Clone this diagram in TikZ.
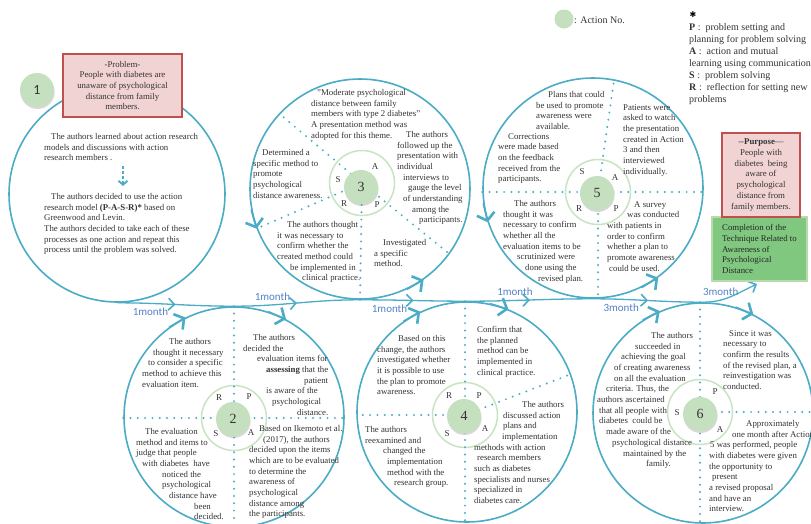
\documentclass[tikz,border=0pt]{standalone}
\usepackage{fontspec}
\setmainfont{Liberation Serif}
\newfontfamily\calibri{Carlito}
\newfontfamily\dejavu{DejaVu Sans}
\usetikzlibrary{arrows.meta,positioning,shadows,decorations.markings,calc}

\definecolor{cyc}{RGB}{75,172,198}
\definecolor{ringgreen}{RGB}{200,228,194}
\definecolor{discgreen}{RGB}{197,224,190}
\definecolor{probfill}{RGB}{242,211,211}
\definecolor{probline}{RGB}{192,80,77}
\definecolor{goalfill}{RGB}{128,200,128}
\definecolor{goalline}{RGB}{184,218,172}
\definecolor{monthblue}{RGB}{84,130,200}

\begin{document}
\begin{tikzpicture}[
    x=1pt, y=-1pt,
    bigcircle/.style={circle, draw=cyc, line width=1.6pt, minimum size=220pt, inner sep=0pt},
    ring/.style={circle, draw=ringgreen, line width=1.5pt, minimum size=65pt, inner sep=0pt},
    disc/.style={circle, fill=discgreen, minimum size=34pt, inner sep=0pt, text=black!80, font=\fontsize{14}{14}\selectfont, drop shadow={shadow xshift=0.6pt, shadow yshift=-2pt, opacity=0.3}},
    pasr/.style={font=\fontsize{9}{9}\selectfont, text=black!80, inner sep=0pt},
    txt/.style={font=\fontsize{8.8}{10.7}\selectfont, text=black!80, inner sep=0pt, align=left, anchor=north west},
    dotline/.style={draw=cyc, line width=2.2pt, line cap=round, dash pattern=on 0pt off 7.3pt},
    tline/.style={draw=cyc, line width=1.3pt, postaction={decorate}, decoration={markings, mark=at position 0.5 with {\arrow{Straight Barb[length=6pt, width=12pt, line width=1.6pt]}}}},
    tend/.style={draw=cyc, line width=1.3pt, -{Straight Barb[length=6pt, width=12pt, line width=1.6pt]}},
    ctip/.style={draw=cyc, line width=1.6pt, -{Straight Barb[length=7pt, width=18pt, line width=2.6pt]}},
    dasharrow/.style={draw=cyc, line width=1.8pt, dash pattern=on 3pt off 2pt, -{Straight Barb[length=4pt, width=9pt, line width=1.8pt]}},
    month/.style={font=\calibri\fontsize{11}{11}\selectfont, text=monthblue, inner sep=1pt},
    probbox/.style={rectangle, draw=probline, line width=1.8pt, fill=probfill, align=center, inner sep=2pt, font=\fontsize{8.8}{10.7}\selectfont, text=black!80},
    goalbox/.style={rectangle, draw=goalline, line width=1.5pt, fill=goalfill, align=left, inner sep=2pt, font=\fontsize{8.8}{10.6}\selectfont, text=black!85}
]
    \useasboundingbox (0,0) rectangle (811,523);
    \fill[white] (0,0) rectangle (811,523);

    % Action circles
    \node[bigcircle, minimum size=216pt] (c1) at (117,194) {};
    \node[bigcircle] (c2) at (234,417) {};
    \node[bigcircle] (c3) at (360,189) {};
    \node[bigcircle] (c4) at (467,412) {};
    \node[bigcircle] (c5) at (593,188) {};
    \node[bigcircle] (c6) at (703,413) {};
    \coordinate (goal) at (757,284);

    % Time line
    \draw[tline] (c1.south) to[out=0,in=180] node[month, pos=0.27, below=3pt] {1month} (c2.north);
    \draw[tline] (c2.north) to[out=0,in=180] node[month, pos=0.29, above=3pt] {1month} (c3.south);
    \draw[tline] (c3.south) to[out=0,in=180] node[month, pos=0.26, below=3pt] {1month} (c4.north);
    \draw[tline] (c4.north) to[out=0,in=180] node[month, pos=0.37, above=3pt] {1month} (c5.south);
    \draw[tline] (c5.south) to[out=0,in=180] node[month, pos=0.24, below=3pt] {3month} (c6.north);
    \draw[tend] (c6.north) to[out=0,in=205] node[month, pos=0.3, above=3pt] {3month} (goal);

    % Direction of each cycle
    \foreach \c/\a/\b in {c2/126/116, c2/72/62, c4/125/115, c4/78/68, c6/123/113, c6/73/63, c3/191/201, c3/295/305, c5/188/198, c5/296/306}
        \draw[ctip] (\c.\a) -- (\c.\b);

    % Inner rings
    \node[ring] (r2) at (234,418) {};
    \node[ring] (r3) at (362,183) {};
    \node[ring] (r4) at (465,415) {};
    \node[ring] (r5) at (598,192) {};
    \node[ring] (r6) at (700,412) {};

    % Dotted dividers
    \draw[dotline] (c2.west |- r2.center) -- (c2.east |- r2.center);
    \draw[dotline] (r2.center |- c2.north) -- (r2.center |- c2.south);
    \foreach \a in {137,201,270,324}
        \draw[dotline] (r3.center) -- (c3.\a);
    \draw[dotline] (r4.center |- c4.north) -- (r4.center |- c4.south);
    \draw[dotline] (r4.center) -- (c4.west |- r4.center);
    \draw[dotline] (r4.center) -- (c4.20);
    \draw[dotline] (c5.west |- r5.center) -- (c5.east |- r5.center);
    \draw[dotline] (r5.center) -- (c5.79);
    \draw[dotline] (r5.center) -- (r5.center |- c5.south);
    \draw[dotline] (r6.center |- c6.north) -- (r6.center |- c6.south);
    \draw[dotline] (r6.center) -- (c6.east |- r6.center);

    % Action numbers
    \node[disc, font=\calibri\fontsize{14}{14}\selectfont] (n1) at (37,90) {1};
    \node[disc] (n2) at (233,419) {2};
    \node[disc] (n3) at (361,187) {3};
    \node[disc] (n4) at (464,416) {4};
    \node[disc] (n5) at (597,193) {5};
    \node[disc] (n6) at (700,414) {6};

    \foreach \n/\t/\x/\y in {3s/S/338/180, 3a/A/375/167, 3r/R/344/204, 3p/P/377/205,
        5s/S/582/172, 5a/A/615/178, 5r/R/579/209, 5p/P/616/209,
        2r/R/219/398, 2p/P/249/397, 2s/S/216/434, 2a/A/251/433,
        4r/R/449/396, 4p/P/479/396, 4s/S/447/434, 4a/A/485/429,
        6p/P/715/392, 6s/S/677/413, 6a/A/720/430}
        \node[pasr] (lab\n) at (\x,\y) {\t};

    % Action 1
    \node[txt] (t1a) at (44,133) {\hspace*{7pt}The authors learned about action research\\models and discussions with action\\research members .};
    \coordinate (dtop) at (123,166);
    \coordinate (dbot) at (123,186);
    \draw[dasharrow] (dtop) -- (dbot);
    \node[txt] (t1b) at (44,193) {\hspace*{7pt}The authors decided to use the action\\research model \textbf{(P-A-S-R)*} based on\\Greenwood and Levin.\\The authors decided to take each of these\\processes as one action and repeat this\\process until the problem was solved.};
    \node[probbox, minimum width=119pt, minimum height=63pt] (prob) at (122.5,85.5) {-Problem-\\People with diabetes are\\unaware of psychological\\distance from family\\members.};

    % Action 2
    \node[txt] (t2a) at (142,338) {\hspace*{27pt}The authors\\\hspace*{11pt}thought it necessary\\\hspace*{6pt}to consider a specific\\method to achieve this\\evaluation item.};
    \node[txt] (t2b) at (243,334) {\hspace*{10pt}The authors\\decided the\\\hspace*{14pt}evaluation items for\\\hspace*{23pt}\textbf{assessing} that the\\\hspace*{61pt}patient\\\hspace*{23pt}is aware of the\\\hspace*{29pt}psychological\\\hspace*{54pt}distance.};
    \node[txt] (t2c) at (136,428) {\hspace*{9pt}The evaluation\\method and items to\\judge that people\\\hspace*{6pt}with diabetes~ have\\\hspace*{26pt}noticed the\\\hspace*{26pt}psychological\\\hspace*{33pt}distance have\\\hspace*{58pt}been\\\hspace*{58pt}decided.};
    \node[txt] (t2d) at (249,425) {\hspace*{10pt}Based on Ikemoto et al.\\\hspace*{14pt}(2017), the authors\\decided upon the items\\which are to be evaluated\\to determine the\\awareness of\\psychological\\distance among\\the participants.};

    % Action 3
    \node[txt] (t3a) at (311,89) {\hspace*{6pt}"Moderate psychological\\distance between family\\members with type 2 diabetes"\\A presentation method was\\adopted for this theme.};
    \node[txt] (t3b) at (397,131) {\hspace*{9pt}The authors\\followed up the\\presentation with\\individual\\\hspace*{6pt}interviews to\\\hspace*{11pt}gauge the level\\\hspace*{6pt}of understanding\\\hspace*{15pt}among the\\\hspace*{22pt}participants.};
    \node[txt] (t3c) at (253,149) {\hspace*{9pt}Determined a\\specific method to\\promote\\psychological\\distance awareness.};
    \node[txt] (t3d) at (277,221) {\hspace*{10pt}The authors thought\\it was necessary to\\confirm whether the\\created method could\\\hspace*{13pt}be implemented in\\\hspace*{25pt}clinical practice.};
    \node[txt] (t3e) at (374,239) {\hspace*{9pt}Investigated\\a specific\\method.};

    % Action 4
    \node[txt] (t4a) at (377,335) {\hspace*{21pt}Based on this\\change, the authors\\investigated whether\\it is possible to use\\the plan to promote\\awareness.};
    \node[txt] (t4b) at (477,326) {Confirm that\\the planned\\method can be\\implemented in\\clinical practice.};
    \node[txt] (t4c) at (474,401) {\hspace*{48pt}The authors\\\hspace*{29pt}discussed action\\\hspace*{29pt}plans and\\\hspace*{28pt}implementation\\methods with action\\\hspace*{3pt}research members\\such as diabetes\\specialists and nurses\\specialized in\\diabetes care.};
    \node[txt] (t4d) at (365,426) {The authors\\reexamined and\\\hspace*{18pt}changed the\\\hspace*{22pt}implementation\\\hspace*{22pt}method with the\\\hspace*{29pt}research group.};

    % Action 5
    \node[txt] (t5a) at (536,91) {\hspace*{12pt}Plans that could\\be used to promote\\awareness were\\available.};
    \node[txt] (t5b) at (498,133) {\hspace*{10pt}Corrections\\were made based\\on the feedback\\received from the\\participants.};
    \node[txt] (t5c) at (623,104) {Patients were\\asked to watch\\the presentation\\created in Action\\3 and then\\interviewed\\individually.};
    \node[txt] (t5d) at (503,200) {\hspace*{11pt}The authors\\thought it was\\necessary to confirm\\whether all the\\evaluation items to be\\\hspace*{14pt}scrutinized were\\\hspace*{22pt}done using the\\\hspace*{35pt}revised plan.};
    \node[txt] (t5e) at (607,201) {\hspace*{27pt}A survey\\\hspace*{20pt}was conducted\\with patients in\\order to confirm\\whether a plan to\\promote awareness\\\hspace*{2pt}could be used.};

    % Action 6
    \node[txt] (t6a) at (597,332) {\hspace*{54pt}The authors\\\hspace*{38pt}succeeded in\\\hspace*{24pt}achieving the goal\\\hspace*{17pt}of creating awareness\\\hspace*{17pt}on all the evaluation\\\hspace*{9pt}criteria. Thus, the\\authors ascertained\\\hspace*{2pt}that all people with\\\hspace*{2pt}diabetes~ could be\\\hspace*{9pt}made aware of the\\\hspace*{15pt}psychological distance\\\hspace*{26pt}maintained by the\\\hspace*{49pt}family.};
    \node[txt] (t6b) at (723,330) {\hspace*{6pt}Since it was\\necessary to\\confirm the results\\of the revised plan, a\\reinvestigation was\\conducted.};
    \node[txt] (t6c) at (709,420) {\hspace*{37pt}Approximately\\\hspace*{23pt}one month after Action\\\hspace*{1pt}5 was performed, people\\with diabetes were given\\the opportunity to\\\hspace*{3pt}present\\a revised proposal\\and have an\\interview.};

    % Purpose
    \node[goalbox, minimum width=95pt, minimum height=64pt] (done) at (759.5,249) {Completion of the\\Technique Related to\\Awareness of\\Psychological\\Distance};
    \node[probbox, minimum width=78pt, minimum height=84pt] (purp) at (761,175) {-{}-\textbf{Purpose}—\\People with\\diabetes~ being\\aware of\\psychological\\distance from\\family members.};

    % Legend
    \node[circle, fill=discgreen, minimum size=19pt, inner sep=0pt] (legdisc) at (564,19) {};
    \node[anchor=west, inner sep=0pt, font=\fontsize{10}{12}\selectfont, text=black!80] (legtxt) at (574,20) {: Action No.};
    \node[inner sep=0pt, font=\dejavu\fontsize{8}{8}\selectfont] (star) at (693,15) {✱};
    \node[txt, font=\fontsize{10}{12}\selectfont] (key) at (689,23) {\textbf{P} :~ problem setting and\\planning for problem solving\\\textbf{A} :~ action and mutual\\learning using communication\\\textbf{S} :~ problem solving\\\textbf{R} :~ reflection for setting new\\problems};
\end{tikzpicture}
\end{document}
